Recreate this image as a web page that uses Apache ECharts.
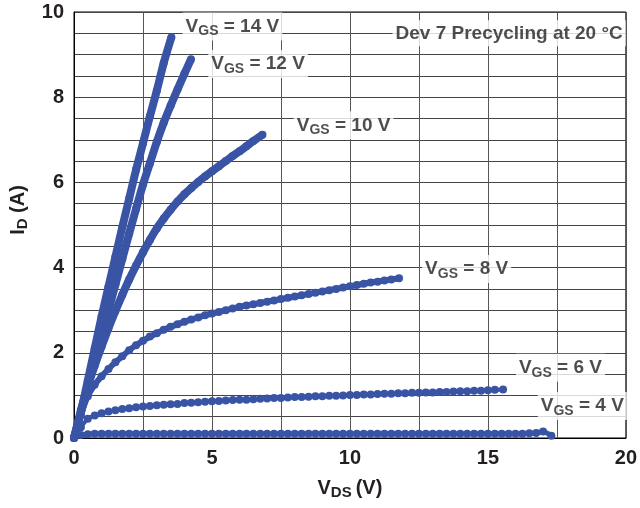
<!DOCTYPE html>
<html>
<head>
<meta charset="utf-8">
<script src="https://cdn.jsdelivr.net/npm/echarts@6/dist/echarts.min.js"></script>
<style>
  html, body { margin: 0; padding: 0; background: #fff; }
  #main { width: 640px; height: 508px; }
</style>
</head>
<body>
<div id="main"></div>
<script>
// axis ticks
var xTicks = [0, 5, 10, 15, 20]
var yTicks = [0, 2, 4, 6, 8, 10]

// measured curves, [VDS (V), ID (A)]
var vgs14 = [[0, 0], [0.25, 0.6], [0.5, 1.35], [0.75, 2.1], [1, 2.85], [1.25, 3.55], [1.5, 4.25],
  [1.75, 4.95], [2, 5.62], [2.25, 6.3], [2.5, 6.92], [2.75, 7.55], [3, 8.15], [3.25, 8.8], [3.53, 9.41]]
var vgs12 = [[0, 0], [0.25, 0.6], [0.5, 1.2], [0.75, 1.8], [1, 2.4], [1.25, 3.0], [1.5, 3.6], [1.75, 4.2],
  [2, 4.8], [2.25, 5.38], [2.5, 5.95], [2.75, 6.45], [3, 6.95], [3.25, 7.4], [3.5, 7.8], [3.75, 8.18],
  [4, 8.55], [4.24, 8.89]]
var vgs10 = [[0, 0], [0.25, 0.65], [0.5, 1.22], [0.75, 1.7], [1, 2.15], [1.25, 2.58], [1.5, 2.98], [1.75, 3.36],
  [2, 3.72], [2.25, 4.05], [2.5, 4.36], [2.75, 4.65], [3, 4.92], [3.25, 5.15], [3.5, 5.36], [3.75, 5.55],
  [4, 5.72], [4.25, 5.87], [4.5, 6.01], [4.75, 6.14], [5, 6.26], [5.25, 6.38], [5.5, 6.5], [5.75, 6.62],
  [6, 6.73], [6.25, 6.85], [6.5, 6.97], [6.83, 7.12]]
var vgs8 = [[0, 0], [0.25, 0.55], [0.5, 0.98], [0.75, 1.25], [1, 1.45], [1.25, 1.62], [1.5, 1.78], [1.75, 1.92],
  [2, 2.06], [2.25, 2.18], [2.5, 2.28], [2.75, 2.38], [3, 2.46], [3.25, 2.54], [3.5, 2.61], [3.75, 2.67],
  [4, 2.73], [4.25, 2.78], [4.5, 2.83], [4.75, 2.88], [5, 2.92], [5.25, 2.96], [5.5, 3.0], [5.75, 3.04],
  [6, 3.08], [6.25, 3.11], [6.5, 3.14], [6.75, 3.17], [7, 3.2], [7.25, 3.23], [7.5, 3.26], [7.75, 3.29],
  [8, 3.32], [8.25, 3.35], [8.5, 3.38], [8.75, 3.41], [9, 3.44], [9.25, 3.47], [9.5, 3.5], [9.75, 3.53],
  [10, 3.56], [10.25, 3.59], [10.5, 3.62], [10.75, 3.65], [11, 3.67], [11.25, 3.7], [11.5, 3.72], [11.78, 3.75]]
var vgs6 = [[0, 0.02], [0.25, 0.25], [0.5, 0.45], [0.75, 0.53], [1, 0.58], [1.25, 0.62], [1.5, 0.65], [1.75, 0.68],
  [2, 0.7], [2.25, 0.72], [2.5, 0.74], [2.75, 0.75], [3, 0.77], [3.25, 0.78], [3.5, 0.79], [3.75, 0.8],
  [4, 0.82], [4.25, 0.83], [4.5, 0.84], [4.75, 0.85], [5, 0.86], [5.25, 0.87], [5.5, 0.88], [5.75, 0.89],
  [6, 0.9], [6.25, 0.9], [6.5, 0.91], [6.75, 0.92], [7, 0.93], [7.25, 0.94], [7.5, 0.94], [7.75, 0.95],
  [8, 0.96], [8.25, 0.96], [8.5, 0.97], [8.75, 0.98], [9, 0.98], [9.25, 0.99], [9.5, 0.99], [9.75, 1.0],
  [10, 1.01], [10.25, 1.01], [10.5, 1.02], [10.75, 1.02], [11, 1.03], [11.25, 1.04], [11.5, 1.04], [11.75, 1.05],
  [12, 1.05], [12.25, 1.06], [12.5, 1.06], [12.75, 1.07], [13, 1.07], [13.25, 1.08], [13.5, 1.08], [13.75, 1.09],
  [14, 1.1], [14.25, 1.1], [14.5, 1.11], [14.75, 1.11], [15, 1.12], [15.25, 1.13], [15.55, 1.14]]
var vgs4 = [[0, 0.02], [0.25, 0.07], [0.5, 0.09], [0.75, 0.1], [1, 0.1], [1.25, 0.1], [1.5, 0.1], [1.75, 0.1],
  [2, 0.1], [2.25, 0.1], [2.5, 0.1], [2.75, 0.1], [3, 0.1], [3.25, 0.1], [3.5, 0.1], [3.75, 0.1],
  [4, 0.1], [4.25, 0.1], [4.5, 0.1], [4.75, 0.1], [5, 0.1], [5.25, 0.1], [5.5, 0.1], [5.75, 0.1],
  [6, 0.1], [6.25, 0.1], [6.5, 0.1], [6.75, 0.1], [7, 0.1], [7.25, 0.1], [7.5, 0.1], [7.75, 0.1],
  [8, 0.1], [8.25, 0.1], [8.5, 0.1], [8.75, 0.1], [9, 0.1], [9.25, 0.1], [9.5, 0.1], [9.75, 0.1],
  [10, 0.1], [10.25, 0.1], [10.5, 0.1], [10.75, 0.1], [11, 0.1], [11.25, 0.1], [11.5, 0.1], [11.75, 0.1],
  [12, 0.1], [12.25, 0.1], [12.5, 0.1], [12.75, 0.1], [13, 0.1], [13.25, 0.1], [13.5, 0.1], [13.75, 0.1],
  [14, 0.1], [14.25, 0.1], [14.5, 0.1], [14.75, 0.1], [15, 0.1], [15.25, 0.1], [15.5, 0.1], [15.75, 0.1],
  [16, 0.1], [16.25, 0.1], [16.5, 0.11], [16.75, 0.12], [17, 0.15], [17.3, 0.05]]

// curve labels: [VDS, ID, VGS value]
var curveLabels = [[5.74, 9.66, '14'], [6.67, 8.78, '12'], [9.77, 7.34, '10'],
  [14.23, 3.97, '8'], [17.63, 1.65, '6'], [18.42, 0.75, '4']]
var titleText = 'Dev 7 Precycling at 20 °C'
var titlePos = [15.77, 9.5]

var blue = '#3a54a5'
var ink = '#231f20'
var font = 'Liberation Sans, Arial, sans-serif'

var rich = {
  v: { fontSize: 19, fontWeight: 'bold', color: ink, fontFamily: font, lineHeight: 24 },
  s: { fontSize: 14, fontWeight: 'bold', color: ink, fontFamily: font, lineHeight: 14, verticalAlign: 'bottom' }
}
var nameRich = {
  v: { fontSize: 20, fontWeight: 'bold', color: ink, fontFamily: font, lineHeight: 24 },
  s: { fontSize: 15, fontWeight: 'bold', color: ink, fontFamily: font, lineHeight: 15, verticalAlign: 'bottom' }
}

function curve(name, data, w) {
  return {
    name: name,
    type: 'line',
    data: data,
    symbol: 'circle',
    symbolSize: 8,
    showAllSymbol: true,
    smooth: 0.2,
    itemStyle: { color: blue },
    lineStyle: { color: blue, width: w },
    z: 3,
    animation: false
  }
}

var labelData = curveLabels.map(function (d) {
  return { value: [d[0], d[1]], label: { formatter: '{v|V}{s|GS}{v| = ' + d[2] + ' V}' } }
})
labelData.push({ value: titlePos, label: { formatter: '{t|' + titleText + '}' } })

var chart = echarts.init(document.getElementById('main'))
var option = {
  animation: false,
  grid: { left: 72, right: 12, top: 12, bottom: 70, show: true, borderColor: '#000', borderWidth: 1, backgroundColor: '#fff' },
  xAxis: {
    type: 'value',
    min: xTicks[0],
    max: xTicks[xTicks.length - 1],
    interval: xTicks[1] - xTicks[0],
    name: '{v|V}{s|DS}{v|\u2009(V)}',
    nameLocation: 'middle',
    nameGap: 38,
    nameTextStyle: { rich: nameRich },
    axisLine: { show: true, lineStyle: { color: '#000', width: 1 } },
    axisTick: { show: false },
    axisLabel: { fontSize: 20, fontWeight: 'bold', color: ink, fontFamily: font, margin: 10 },
    splitLine: { show: true, lineStyle: { color: '#555', width: 1 } },
    minorTick: { show: false, splitNumber: 2 },
    minorSplitLine: { show: true, lineStyle: { color: '#555', width: 1 } }
  },
  yAxis: {
    type: 'value',
    min: yTicks[0],
    max: yTicks[yTicks.length - 1],
    interval: yTicks[1] - yTicks[0],
    name: '{v|I}{s|D}{v| (A)}',
    nameLocation: 'middle',
    nameGap: 44,
    nameTextStyle: { rich: nameRich, padding: [0, 0, 0, 30] },
    axisLine: { show: true, lineStyle: { color: '#000', width: 1 } },
    axisTick: { show: false },
    axisLabel: { fontSize: 20, fontWeight: 'bold', color: ink, fontFamily: font, margin: 10 },
    splitLine: { show: true, lineStyle: { color: '#444', width: 1 } },
    minorTick: { show: false, splitNumber: 4 },
    minorSplitLine: { show: true, lineStyle: { color: '#444', width: 1 } }
  },
  series: [
    curve('VGS = 4 V', vgs4, 5),
    curve('VGS = 6 V', vgs6, 4),
    curve('VGS = 8 V', vgs8, 6),
    curve('VGS = 10 V', vgs10, 8),
    curve('VGS = 12 V', vgs12, 8),
    curve('VGS = 14 V', vgs14, 8),
    {
      name: 'labels',
      type: 'scatter',
      symbolSize: 0,
      data: labelData,
      z: 5,
      silent: true,
      label: {
        show: true,
        position: 'inside',
        backgroundColor: '#fff',
        padding: [2, 3, 2, 3],
        rich: {
          v: rich.v,
          s: rich.s,
          t: { fontSize: 19, fontWeight: 'bold', color: ink, fontFamily: font, lineHeight: 22 }
        }
      }
    }
  ]
}
chart.setOption(option)
</script>
</body>
</html>
